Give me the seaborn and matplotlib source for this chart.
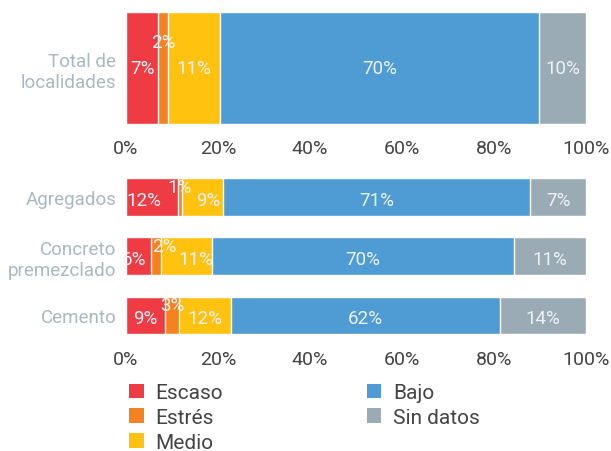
import seaborn as sns
import pandas as pd
import matplotlib.pyplot as plt
from matplotlib.patches import Patch

niveles = ['Escaso', 'Estrés', 'Medio', 'Bajo', 'Sin datos']
colores = ['#EF3B44', '#F58220', '#FFC20E', '#4F9BD3', '#9AABB5']

total_cat = ['Total de\nlocalidades']
total_vals = [7.0, 2.2, 11.3, 69.3, 10.2]
total_lbl = [7, 2, 11, 70, 10]

insumos = ['Agregados', 'Concreto\npremezclado', 'Cemento']
agregados = [11.3, 0.9, 8.9, 66.8, 12.1]
concreto = [5.4, 2.2, 11.1, 65.7, 15.6]
cemento = [8.5, 3.0, 11.3, 58.6, 18.6]
agregados_lbl = [12, 1, 9, 71, 7]
concreto_lbl = [6, 2, 11, 70, 11]
cemento_lbl = [9, 3, 12, 62, 14]

xticks = [0, 20, 40, 60, 80, 100]

sns.set_style('white')
plt.rcParams['font.family'] = ['Roboto', 'DejaVu Sans']

W, H = 611, 452
fig = plt.figure(figsize=(W / 100, H / 100), dpi=100)
ax1 = fig.add_axes([126 / W, 1 - 125 / H, 460 / W, 112 / H])
ax2 = fig.add_axes([126 / W, 1 - 346.1 / H, 460 / W, 177.9 / H])


def apilar(ax, cats, filas, etiquetas, ancho, dy_naranja, dy_resto, dx):
    df = pd.DataFrame(filas, columns=niveles)
    df.insert(0, 'cat', cats)
    acum = df[niveles].cumsum(axis=1)
    # de derecha a izquierda, cada barra tapa a la anterior
    for i in range(len(niveles) - 1, -1, -1):
        sns.barplot(x=acum[niveles[i]], y=df['cat'], orient='h', color=colores[i],
                    width=ancho, saturation=1, ax=ax)
    for r in range(len(cats)):
        izq = 0
        for i, nv in enumerate(niveles):
            w = df.loc[r, nv]
            centro = izq + w / 2
            dy = dy_naranja if i == 1 else dy_resto
            ax.annotate(f'{etiquetas[r][i]}%', (centro, r), xytext=(dx.get((r, i), 0), dy),
                        textcoords='offset pixels', ha='center', va='center',
                        color='#EEF2F6', fontsize=13.5)
            izq += w


apilar(ax1, total_cat, [total_vals], [total_lbl], 1.0, 26, 0, {})
apilar(ax2, insumos, [agregados, concreto, cemento],
       [agregados_lbl, concreto_lbl, cemento_lbl], 0.636, 10, -3,
       {(0, 0): -8, (0, 2): 6, (1, 0): -4, (1, 1): 8, (1, 2): 9})

for ax, pad in [(ax1, 11), (ax2, 3.5)]:
    ax.set_xlim(0, 100)
    ax.set_xticks(xticks)
    ax.set_xticklabels([f'{t}%' for t in xticks])
    ax.set_xlabel('')
    ax.set_ylabel('')
    sns.despine(ax=ax, left=True, bottom=True)
    ax.tick_params(axis='x', length=0, pad=pad, labelsize=14, labelcolor='#444444')
    ax.tick_params(axis='y', length=0, pad=7, labelsize=13.5, labelcolor='#AAB8C2')
ax1.set_ylim(0.5, -0.5)
ax2.set_ylim(2.5, -0.5)

handles = [Patch(facecolor=c, edgecolor='none') for c in colores]
fig.legend(handles, niveles, loc='upper left', bbox_to_anchor=(121 / W, 1 - 376 / H),
           ncol=2, frameon=False, fontsize=15, handlelength=0.7, handleheight=0.7,
           handletextpad=0.55, columnspacing=6.9, labelspacing=0.27, borderaxespad=0,
           labelcolor='#444444')

plt.savefig('out.png', dpi=100)
